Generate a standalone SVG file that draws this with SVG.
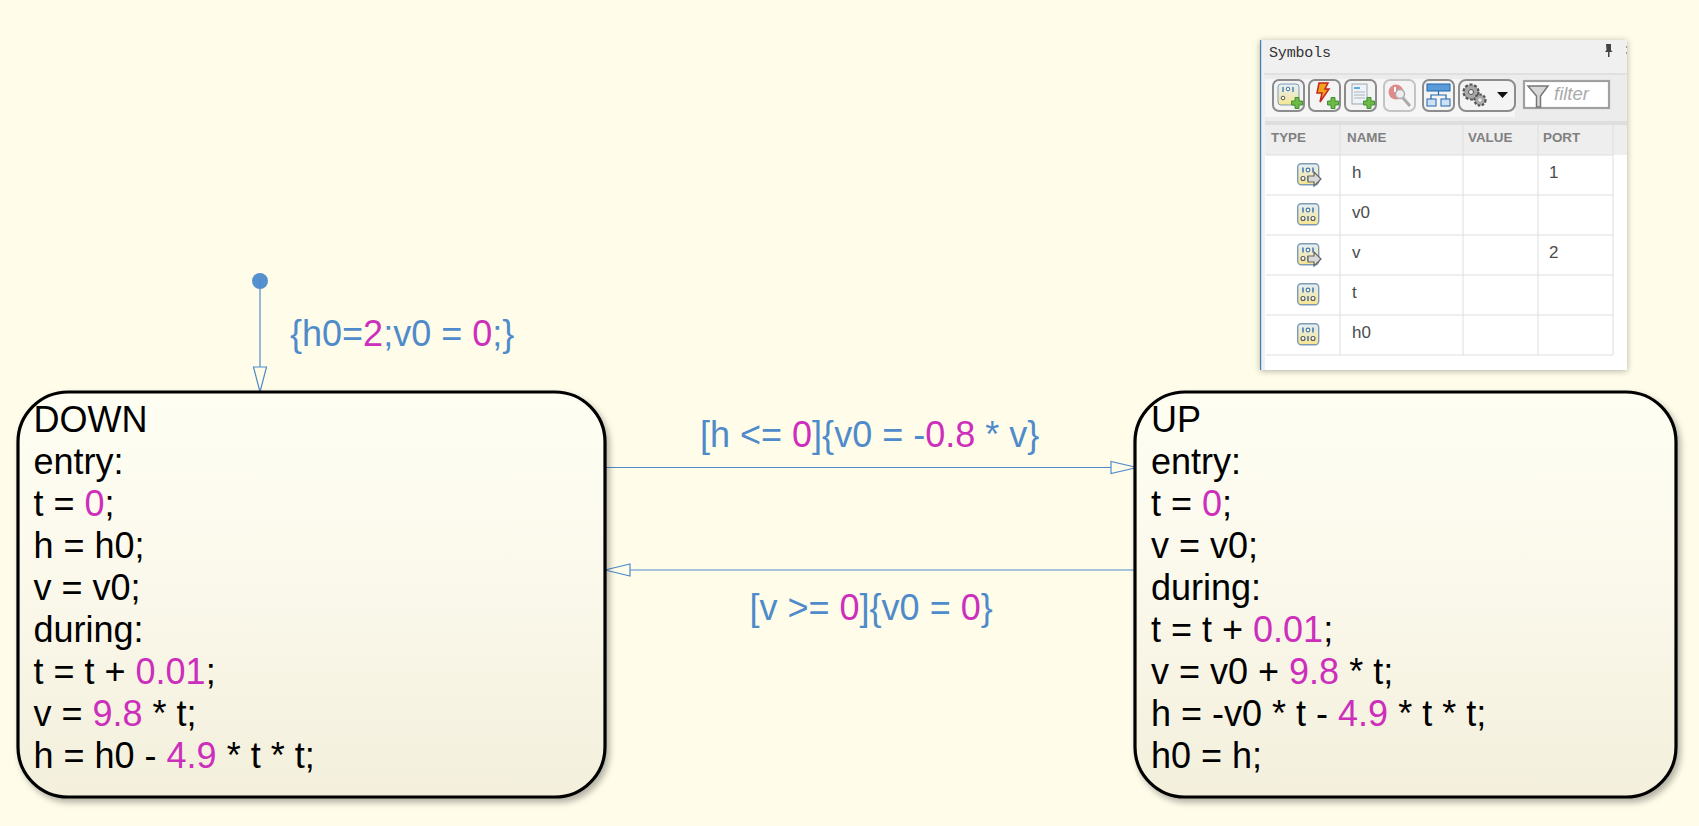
<svg xmlns="http://www.w3.org/2000/svg" xmlns:xlink="http://www.w3.org/1999/xlink" width="1699" height="826" viewBox="0 0 1699 826">
<style>
text{font-family:"Liberation Sans",Arial,sans-serif}
.st{font-size:36px;fill:#000}
.lb{font-size:36px;fill:#4f8bcb}
.n{fill:#cc2fbb}
.state{fill:url(#sg);stroke:#000;stroke-width:3.2}
.conn{stroke:#4f8bcb;stroke-width:1.2;fill:none}
.ah{stroke:#4f8bcb;stroke-width:1.2;fill:#fffce9}
.hd{font-size:13.4px;font-weight:bold;fill:#808080}
.cell{font-size:17px;fill:#4c4c4c}
.gl{stroke:#dedede;stroke-width:1;fill:none}
.btn{fill:#f4f4f4;stroke:#8c8c8c;stroke-width:2}
</style>
<defs>
<linearGradient id="sg" x1="0" y1="0" x2="0" y2="1"><stop offset="0" stop-color="#fffef3"/><stop offset="0.45" stop-color="#fbf9ec"/><stop offset="1" stop-color="#f3efdc"/></linearGradient>
<linearGradient id="ig" x1="0" y1="0" x2="0" y2="1"><stop offset="0" stop-color="#e4eff8"/><stop offset="1" stop-color="#f8e690"/></linearGradient>
<filter id="sh" x="-5%" y="-5%" width="112%" height="112%"><feDropShadow dx="3" dy="4" stdDeviation="3" flood-color="#000" flood-opacity="0.3"/></filter>
<filter id="ps" x="-5%" y="-5%" width="110%" height="110%"><feDropShadow dx="0" dy="1" stdDeviation="3" flood-color="#000" flood-opacity="0.3"/></filter>
<g id="dataicon">
<rect x="0.7" y="0.7" width="21" height="21" rx="3.5" fill="url(#ig)" stroke="#7f9cb4" stroke-width="1.4"/>
<path d="M6 4.500v5M16 4.500v5M11 13v5" stroke="#3f76aa" stroke-width="1.500" fill="none"/>
<circle cx="11" cy="7" r="1.900" fill="#fff" stroke="#3f76aa" stroke-width="1.100"/>
<circle cx="6" cy="15.500" r="2" fill="#fff" stroke="#555" stroke-width="1.100"/>
<circle cx="16" cy="15.500" r="2" fill="#fff" stroke="#555" stroke-width="1.100"/>
</g>
<path id="outarrow" d="M0 -3h6v-4l7 7l-7 7v-4h-6z" fill="#d9d9d9" stroke="#666" stroke-width="1.2"/>
<g id="plus"><path d="M-2 -5.500h4v3.500h3.500v4h-3.500v3.500h-4v-3.500h-3.500v-4h3.500z" fill="#6dbb45" stroke="#3a8a2a" stroke-width="0.9"/></g>
</defs>
<rect width="1699" height="826" fill="#fffce9"/>

<g id="symbols-panel">
<rect x="1260" y="40" width="367" height="330" fill="#f0f0f0" filter="url(#ps)"/>
<rect x="1260" y="40" width="1.200" height="330" fill="#3f7fb8"/>
<rect x="1265" y="155" width="362" height="215" fill="#fff"/>
<rect x="1264" y="73" width="363" height="2" fill="#e0e0e0"/>
<rect x="1265" y="75" width="362" height="46" fill="#ececec"/>
<rect x="1265" y="79" width="250" height="38" fill="#f6f6f6"/>
<rect x="1265" y="121" width="362" height="4" fill="#dedede"/>
<rect x="1266" y="125" width="361" height="30" fill="#eeeeee"/>
<text x="1269" y="57" font-size="15" textLength="62" style="font-family:'Liberation Mono',monospace;fill:#333">Symbols</text>
<path d="M1606 44h5v6l1.500 2h-3v5h-1.500v-5h-3l1.500-2z" fill="#444"/>
<rect x="1626" y="46" width="1" height="2" fill="#999"/><rect x="1626" y="52" width="1" height="2" fill="#999"/>
<g id="toolbar">
<rect class="btn" x="1273" y="80" width="31" height="31" rx="6"/>
<rect x="1278" y="84" width="21" height="21" rx="3" fill="url(#ig)" stroke="#7f9cb4"/>
<path d="M1283 87v5M1293 87v5" stroke="#3f76aa" stroke-width="1.300"/>
<circle cx="1288" cy="89" r="1.800" fill="#fff" stroke="#3f76aa"/>
<circle cx="1283" cy="98" r="1.800" fill="#fff" stroke="#555"/>
<use xlink:href="#plus" href="#plus" x="1297" y="103"/>
<rect class="btn" x="1309" y="80" width="31" height="31" rx="6"/>
<path d="M1319 83h9l-3 6h4l-9 13l2-9h-5z" fill="#f2a21c" stroke="#c2261c" stroke-width="1.500"/>
<use xlink:href="#plus" href="#plus" x="1333" y="103"/>
<rect class="btn" x="1345" y="80" width="31" height="31" rx="6"/>
<rect x="1352" y="84" width="15" height="20" fill="#eef3f8" stroke="#9aa7b3"/>
<path d="M1354 88h6" stroke="#3a9bd8" stroke-width="1.600"/><path d="M1354 92h11M1354 95h11M1354 98h11" stroke="#aab4bd"/>
<use xlink:href="#plus" href="#plus" x="1369" y="103"/>
<rect class="btn" x="1384" y="80" width="31" height="31" rx="6" style="stroke:#c4c4c4"/>
<circle cx="1396" cy="92" r="7.500" fill="#e08a8a"/>
<path d="M1395 87v5" stroke="#fff" stroke-width="2"/>
<circle cx="1400" cy="94" r="4.500" fill="#eee" stroke="#aaa" stroke-width="1.500"/>
<path d="M1403 98l7 8" stroke="#aaa" stroke-width="3"/>
<rect class="btn" x="1423" y="80" width="31" height="31" rx="6"/>
<rect x="1427" y="84" width="23" height="7" fill="#5a9bd8" stroke="#1f66ae"/>
<rect x="1427" y="99" width="9" height="7" fill="#cfe2f5" stroke="#1f66ae"/>
<rect x="1441" y="99" width="9" height="7" fill="#cfe2f5" stroke="#1f66ae"/>
<path d="M1438.500 91v4M1431 99v-4h15v4" fill="none" stroke="#1f66ae" stroke-width="1.200"/>
<rect class="btn" x="1459" y="80" width="56" height="31" rx="7"/>
<circle cx="1471" cy="92" r="7.500" fill="#a8a8a8" stroke="#555" stroke-width="2.200" stroke-dasharray="3 1.800"/>
<circle cx="1471" cy="92" r="2.500" fill="#eee" stroke="#555"/>
<circle cx="1480" cy="100" r="5.500" fill="#a8a8a8" stroke="#555" stroke-width="2.200" stroke-dasharray="2.500 1.600"/>
<circle cx="1480" cy="100" r="1.700" fill="#eee"/>
<path d="M1497 92h11l-5.500 6z" fill="#111"/>
</g>
<g id="filter">
<rect x="1524" y="81" width="85" height="27" fill="#fff" stroke="#a0a0a0" stroke-width="2.200"/>
<path d="M1528 86h20l-7.500 10v11h-4v-11z" fill="#d8d8d8" stroke="#777" stroke-width="1.500"/>
<text x="1554" y="100" font-size="18.500" font-style="italic" fill="#aaaaaa">filter</text>
</g>
<path class="gl" d="M1340 125V355M1463 125V355M1538 125V355M1613 125V355M1266 155H1613M1266 195H1613M1266 235H1613M1266 275H1613M1266 315H1613M1266 355H1613"/>
<text class="hd" x="1271" y="142">TYPE</text>
<text class="hd" x="1347" y="142">NAME</text>
<text class="hd" x="1468" y="142">VALUE</text>
<text class="hd" x="1543" y="142">PORT</text>
<text class="cell" x="1352" y="178">h</text><text class="cell" x="1549" y="178">1</text>
<text class="cell" x="1352" y="218">v0</text>
<text class="cell" x="1352" y="258">v</text><text class="cell" x="1549" y="258">2</text>
<text class="cell" x="1352" y="298">t</text>
<text class="cell" x="1352" y="338">h0</text>
<use xlink:href="#dataicon" href="#dataicon" x="1297" y="163"/><use xlink:href="#outarrow" href="#outarrow" x="1308" y="179"/>
<use xlink:href="#dataicon" href="#dataicon" x="1297" y="203"/>
<use xlink:href="#dataicon" href="#dataicon" x="1297" y="243"/><use xlink:href="#outarrow" href="#outarrow" x="1308" y="259"/>
<use xlink:href="#dataicon" href="#dataicon" x="1297" y="283"/>
<use xlink:href="#dataicon" href="#dataicon" x="1297" y="323"/>
</g>

<g id="connectors">
<circle cx="260" cy="281" r="8" fill="#5590cf"/>
<path class="conn" d="M260 281V392"/>
<path class="ah" d="M253.500 367H266.500L260 392Z"/>
<path class="conn" d="M606 467.500H1135"/>
<path class="ah" d="M1111 461.500V473.500L1137 467.500Z"/>
<path class="conn" d="M1135 570H606"/>
<path class="ah" d="M630 564V576L605 570Z"/>
</g>

<g id="state-down">
<rect class="state" x="18" y="392" width="587" height="405" rx="50" filter="url(#sh)"/>
<text class="st" x="33.500" y="432">DOWN</text>
<text class="st" x="33.500" y="474">entry:</text>
<text class="st" x="33.500" y="516">t = <tspan class="n">0</tspan>;</text>
<text class="st" x="33.500" y="558">h = h0;</text>
<text class="st" x="33.500" y="600">v = v0;</text>
<text class="st" x="33.500" y="642">during:</text>
<text class="st" x="33.500" y="684">t = t + <tspan class="n">0.01</tspan>;</text>
<text class="st" x="33.500" y="726">v = <tspan class="n">9.8</tspan> * t;</text>
<text class="st" x="33.500" y="768">h = h0 - <tspan class="n">4.9</tspan> * t * t;</text>
</g>
<g id="state-up">
<rect class="state" x="1135" y="392" width="541" height="405" rx="50" filter="url(#sh)"/>
<text class="st" x="1151" y="432">UP</text>
<text class="st" x="1151" y="474">entry:</text>
<text class="st" x="1151" y="516">t = <tspan class="n">0</tspan>;</text>
<text class="st" x="1151" y="558">v = v0;</text>
<text class="st" x="1151" y="600">during:</text>
<text class="st" x="1151" y="642">t = t + <tspan class="n">0.01</tspan>;</text>
<text class="st" x="1151" y="684">v = v0 + <tspan class="n">9.8</tspan> * t;</text>
<text class="st" x="1151" y="726">h = -v0 * t - <tspan class="n">4.9</tspan> * t * t;</text>
<text class="st" x="1151" y="768">h0 = h;</text>
</g>
<g id="labels">
<text class="lb" x="290" y="346">{h0=<tspan class="n">2</tspan>;v0 = <tspan class="n">0</tspan>;}</text>
<text class="lb" x="700" y="447">[h &lt;= <tspan class="n">0</tspan>]{v0 = -<tspan class="n">0.8</tspan> * v}</text>
<text class="lb" x="749.500" y="620">[v &gt;= <tspan class="n">0</tspan>]{v0 = <tspan class="n">0</tspan>}</text>
</g>
</svg>
